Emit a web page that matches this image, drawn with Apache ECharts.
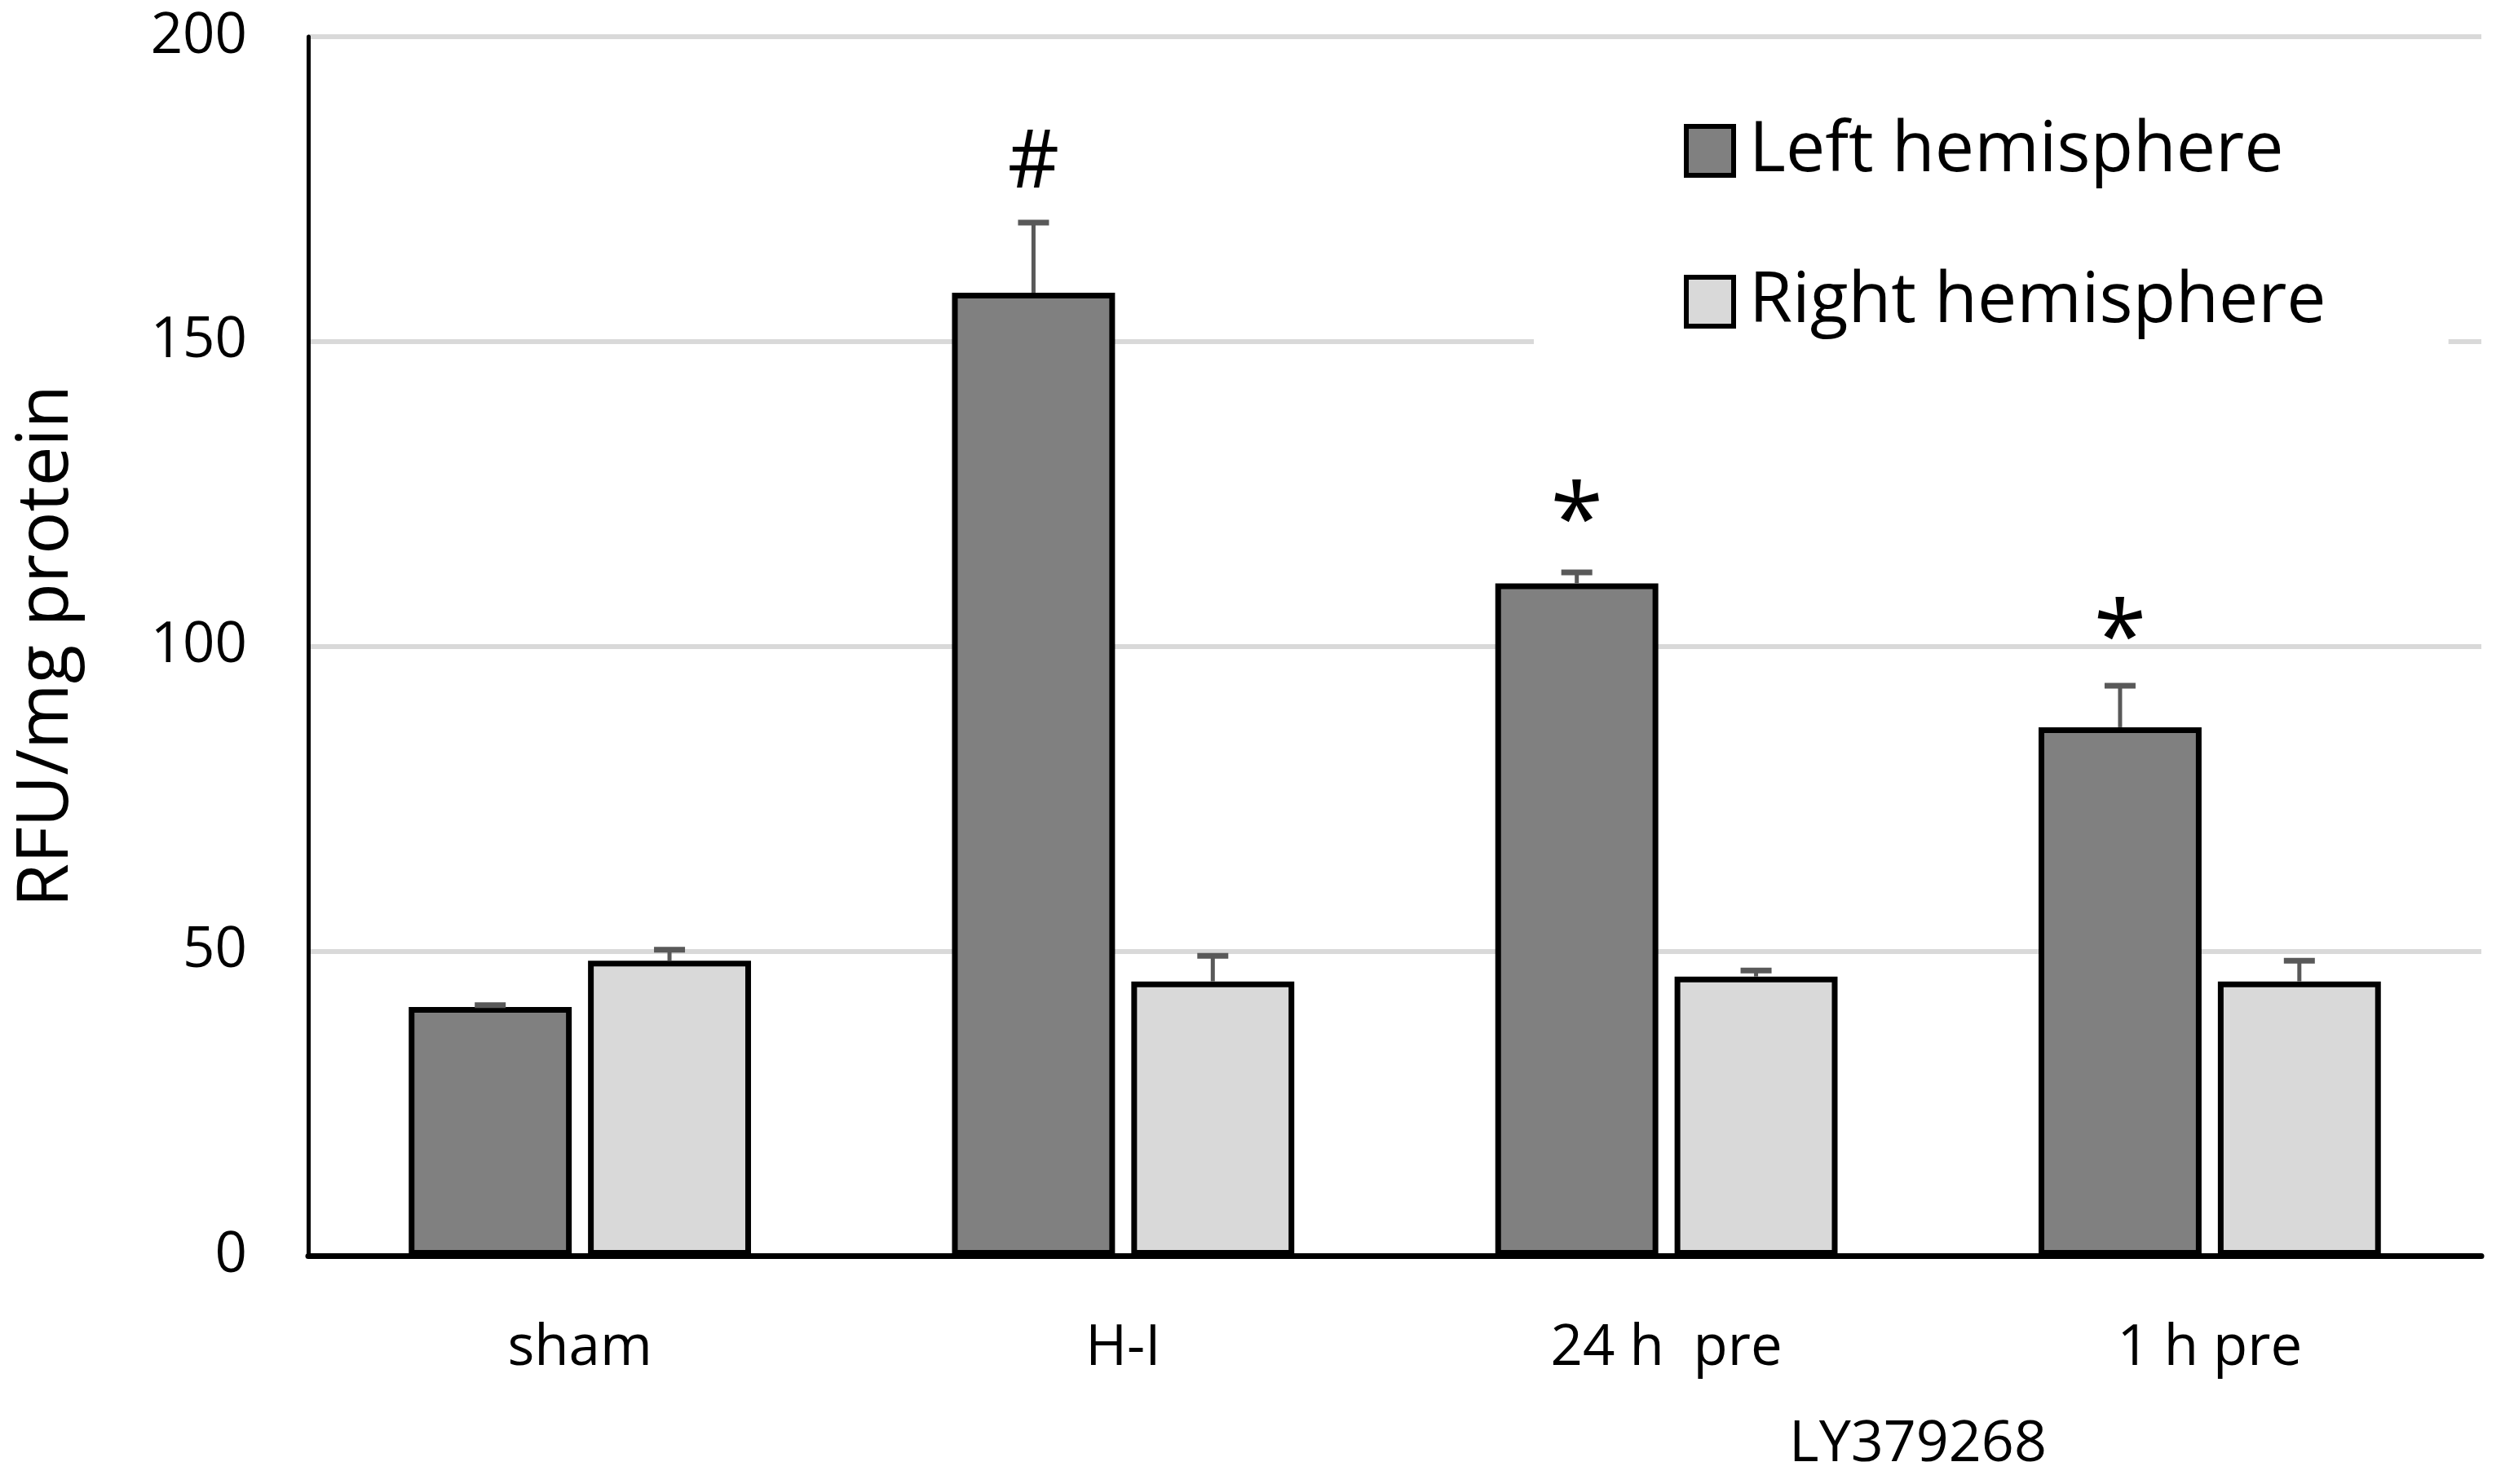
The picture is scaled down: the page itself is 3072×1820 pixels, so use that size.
<!DOCTYPE html>
<html>
<head>
<meta charset="utf-8">
<script src="https://cdn.jsdelivr.net/npm/echarts@6/dist/echarts.min.js"></script>
<style>
html,body{margin:0;padding:0;background:#fff;}
#chart{width:3072px;height:1820px;}
</style>
</head>
<body>
<div id="chart"></div>
<script>
// ---- data ----
var categories = ['sham', 'H-I', '24 h  pre', '1 h pre'];
var seriesNames = ['Left hemisphere', 'Right hemisphere'];
var leftValues = [40.8, 158.0, 110.3, 86.7];
var leftErrors = [0.3, 11.5, 1.8, 6.8];
var rightValues = [48.4, 45.0, 45.8, 45.0];
var rightErrors = [1.8, 4.2, 1.0, 3.4];
var annotTexts = ['', '#', '*', '*'];
var annotValues = [null, 179, 120, 100.7];
var yTicks = [0, 50, 100, 150, 200];
var groupNote = 'LY379268';

var FONT = '"Open Sans", "Noto Sans", sans-serif';
var chart = echarts.init(document.getElementById('chart'), null, {renderer: 'canvas'});

var BAR_FRAC = 0.30;   // bar width as fraction of band
var GAP_FRAC = 0.10;   // gap as fraction of bar width

function errData(vals, errs, side) {
  return vals.map(function (v, i) { return [i, v, errs[i], side]; });
}

function renderErr(params, api) {
  var cat = api.value(0), v = api.value(1), e = api.value(2), side = api.value(3);
  var band = api.size([1, 0])[0];
  var bw = band * BAR_FRAC;
  var off = side * (bw + bw * GAP_FRAC) / 2;
  var base = api.coord([cat, v]);
  var top = api.coord([cat, v + e]);
  var x = base[0] + off;
  var capW = 38;
  return {
    type: 'group',
    children: [
      {type: 'line', shape: {x1: x, y1: base[1], x2: x, y2: top[1]},
       style: {stroke: '#595959', lineWidth: 5}},
      {type: 'line', shape: {x1: x - capW / 2, y1: top[1], x2: x + capW / 2, y2: top[1]},
       style: {stroke: '#595959', lineWidth: 7}}
    ]
  };
}

function renderAnnot(params, api) {
  var cat = api.value(0), v = api.value(1);
  var txt = annotTexts[params.dataIndex];
  if (!txt) return null;
  var band = api.size([1, 0])[0];
  var bw = band * BAR_FRAC;
  var off = -(bw + bw * GAP_FRAC) / 2;
  var p = api.coord([cat, v]);
  return {
    type: 'text',
    x: p[0] + off, y: p[1],
    style: {text: txt, fontSize: txt === '*' ? 118 : 98, fontFamily: FONT, fill: '#000',
            align: 'center', verticalAlign: 'middle'}
  };
}

var option = {
  backgroundColor: '#fff',
  animation: false,
  grid: {left: 378, right: 29, top: 45, bottom: 280, containLabel: false},
  legend: {
    orient: 'vertical',
    left: 1881, top: 92,
    padding: [50, 150, 45, 184],
    backgroundColor: '#fff',
    icon: 'rect',
    itemWidth: 58, itemHeight: 60, itemGap: 99,
    itemStyle: {borderColor: '#000', borderWidth: 6},
    data: seriesNames,
    textStyle: {fontFamily: FONT, fontSize: 86, color: '#000', lineHeight: 62, padding: [0, 0, 0, 14]},
    z: 10
  },
  xAxis: {
    type: 'category',
    data: categories,
    axisLine: {lineStyle: {color: '#000', width: 7}},
    axisTick: {show: false},
    axisLabel: {fontFamily: FONT, fontSize: 69, color: '#000', margin: 80},
    splitLine: {show: false}
  },
  yAxis: {
    type: 'value',
    min: yTicks[0], max: yTicks[yTicks.length - 1], interval: 50,
    name: 'RFU/mg protein',
    nameLocation: 'middle',
    nameGap: 276,
    nameTextStyle: {fontFamily: FONT, fontSize: 87, color: '#000'},
    axisLine: {show: true, lineStyle: {color: '#000', width: 5}},
    axisTick: {show: false},
    axisLabel: {fontFamily: FONT, fontSize: 69, color: '#000', margin: 75},
    splitLine: {show: true, lineStyle: {color: '#d9d9d9', width: 6}}
  },
  series: [
    {
      name: seriesNames[0], type: 'bar', data: leftValues,
      barWidth: (BAR_FRAC * 100) + '%', barGap: (GAP_FRAC * 100) + '%',
      itemStyle: {color: '#808080', borderColor: '#000', borderWidth: 7}
    },
    {
      name: seriesNames[1], type: 'bar', data: rightValues,
      barWidth: (BAR_FRAC * 100) + '%', barGap: (GAP_FRAC * 100) + '%',
      itemStyle: {color: '#d9d9d9', borderColor: '#000', borderWidth: 7}
    },
    {
      type: 'custom', renderItem: renderErr, data: errData(leftValues, leftErrors, -1),
      encode: {x: 0, y: 1}, z: 5, silent: true
    },
    {
      type: 'custom', renderItem: renderErr, data: errData(rightValues, rightErrors, 1),
      encode: {x: 0, y: 1}, z: 5, silent: true
    },
    {
      type: 'custom', renderItem: renderAnnot,
      data: annotValues.map(function (v, i) { return [i, v == null ? 0 : v]; }),
      encode: {x: 0, y: 1}, z: 6, silent: true
    }
  ],
  graphic: [
    {type: 'text', x: 2352, y: 1772,
     style: {text: groupNote, fontFamily: FONT, fontSize: 70, fill: '#000',
             align: 'center', verticalAlign: 'middle'}}
  ]
};
chart.setOption(option);
</script>
</body>
</html>
